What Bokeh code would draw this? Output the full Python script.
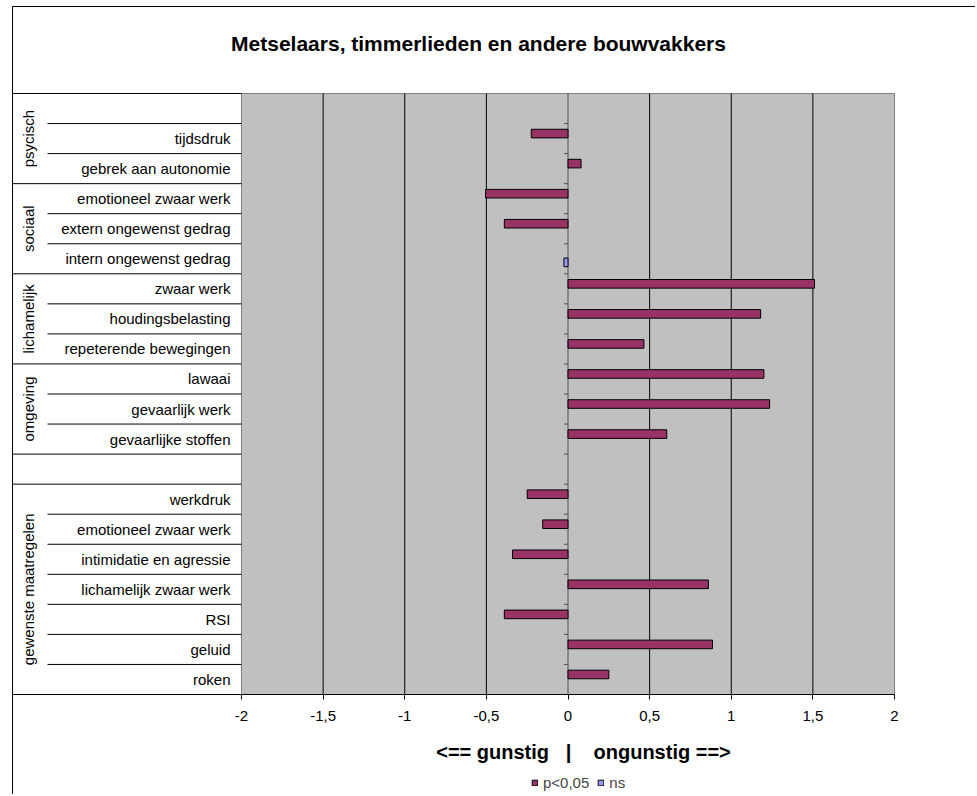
import math
from bokeh.plotting import figure
from bokeh.models import (ColumnDataSource, LinearAxis, FixedTicker, CustomJSTickFormatter,
                          Range1d, Legend, LegendItem)
from bokeh.core.properties import value
from bokeh.embed import file_html
from bokeh.resources import INLINE

# ---------------- data ----------------
title_text = "Metselaars, timmerlieden en andere bouwvakkers"
axis_title = "<== gunstig\u00a0\u00a0\u00a0|\u00a0\u00a0\u00a0\u00a0ongunstig ==>"

labels = ["", "tijdsdruk", "gebrek aan autonomie",
          "emotioneel zwaar werk", "extern ongewenst gedrag", "intern ongewenst gedrag",
          "zwaar werk", "houdingsbelasting", "repeterende bewegingen",
          "lawaai", "gevaarlijk werk", "gevaarlijke stoffen",
          "",
          "werkdruk", "emotioneel zwaar werk", "intimidatie en agressie",
          "lichamelijk zwaar werk", "RSI", "geluid", "roken"]

sig_values = [None, -0.225, 0.08,
              -0.505, -0.39, None,
              1.51, 1.18, 0.465,
              1.20, 1.235, 0.605,
              None,
              -0.25, -0.155, -0.34, 0.86, -0.39, 0.885, 0.25]

ns_values = [None, None, None,
             None, None, -0.025,
             None, None, None,
             None, None, None,
             None,
             None, None, None, None, None, None, None]

groups = ["psycisch", "sociaal", "lichamelijk", "omgeving", "", "gewenste maatregelen"]
group_sizes = [3, 3, 3, 3, 1, 7]

x_ticks = [-2, -1.5, -1, -0.5, 0, 0.5, 1, 1.5, 2]
legend_labels = ["p<0,05", "ns"]

# ---------------- layout / style ----------------
FONT = value("Liberation Sans")
SIG_COLOR = "#993366"
NS_COLOR = "#9999FF"
PLOT_BG = "#C0C0C0"

W, H = 975, 794
PLOT_L, PLOT_R, PLOT_T, PLOT_B = 241, 894, 93, 694
FRAME_L, FRAME_T = 12, 6
GROUP_COL_R = 47
LABEL_R = 230
GROUP_X = 28

XMIN, XMAX = x_ticks[0], x_ticks[-1]
n = len(labels)
ppu_x = (PLOT_R - PLOT_L) / (XMAX - XMIN)
ppu_y = (PLOT_B - PLOT_T) / n


def dx(px):
    return XMIN + (px - PLOT_L) / ppu_x


def dy(py):
    return (PLOT_B - py) / ppu_y - 0.5


p = figure(width=W, height=H,
           x_range=Range1d(dx(0), dx(W)),
           y_range=Range1d(dy(H), dy(0)),
           x_axis_type=None, y_axis_type=None,
           toolbar_location=None, output_backend="svg",
           min_border=0, outline_line_color=None)
p.background_fill_color = "white"
p.border_fill_color = "white"

ys = [n - 1 - i for i in range(n)]
top_y, bot_y = n - 0.5, -0.5

# plot area
p.quad(left=XMIN, right=XMAX, bottom=bot_y, top=top_y,
       fill_color=PLOT_BG, line_color="#808080", line_width=1)

# vertical gridlines
grid_x = [t for t in x_ticks[1:-1] if t != 0]
p.segment(x0=grid_x, y0=[bot_y] * len(grid_x), x1=grid_x, y1=[top_y] * len(grid_x),
          line_color="black", line_width=1)

# category axis at zero with tick marks at row boundaries
p.segment(x0=[0], y0=[bot_y], x1=[0], y1=[top_y], line_color="#505050", line_width=1)
bnds = [k - 0.5 for k in range(1, n)]
p.segment(x0=[-4 / ppu_x] * len(bnds), y0=bnds, x1=[0] * len(bnds), y1=bnds,
          line_color="#505050", line_width=1)

# bars
bar_h = 8.6 / ppu_y
off_sig = 5.0 / ppu_y
off_ns = -3.6 / ppu_y
sig_src = ColumnDataSource(dict(
    y=[ys[i] + off_sig for i, v in enumerate(sig_values) if v is not None],
    v=[v for v in sig_values if v is not None]))
ns_src = ColumnDataSource(dict(
    y=[ys[i] + off_ns for i, v in enumerate(ns_values) if v is not None],
    v=[v for v in ns_values if v is not None]))
r_sig = p.hbar(y="y", left=0, right="v", height=bar_h, source=sig_src,
               fill_color=SIG_COLOR, line_color="black", line_width=1)
r_ns = p.hbar(y="y", left=0, right="v", height=bar_h, source=ns_src,
              fill_color=NS_COLOR, line_color="black", line_width=1)

# label panel lines
bounds_rows = [0]
for s in group_sizes:
    bounds_rows.append(bounds_rows[-1] + s)
gy = [top_y - b for b in bounds_rows]
p.segment(x0=[dx(FRAME_L)] * len(gy), y0=gy, x1=[XMIN] * len(gy), y1=gy,
          line_color="black", line_width=1)
iy = []
for start, size in zip(bounds_rows[:-1], group_sizes):
    for k in range(start + 1, start + size):
        iy.append(top_y - k)
p.segment(x0=[dx(GROUP_COL_R)] * len(iy), y0=iy, x1=[XMIN] * len(iy), y1=iy,
          line_color="black", line_width=1)

# outer chart border (left + top)
p.segment(x0=[dx(FRAME_L), dx(FRAME_L)], y0=[dy(FRAME_T), dy(FRAME_T)],
          x1=[dx(FRAME_L), dx(W)], y1=[dy(H), dy(FRAME_T)],
          line_color="black", line_width=1)

# item labels
p.text(x=[dx(LABEL_R)] * n, y=ys, text=labels, text_align="right", text_baseline="middle",
       text_font=FONT, text_font_size="15px", text_color="black")

# group labels (rotated)
gcy = []
for start, size in zip(bounds_rows[:-1], group_sizes):
    gcy.append(top_y - start - size / 2)
p.text(x=[dx(GROUP_X)] * len(groups), y=gcy, text=groups, angle=math.pi / 2,
       text_align="center", text_baseline="middle",
       text_font=FONT, text_font_size="15px", text_color="black")

# x axis
xaxis = LinearAxis(fixed_location=bot_y, ticker=FixedTicker(ticks=x_ticks),
                   formatter=CustomJSTickFormatter(code="return tick.toString().replace('.', ',')"),
                   bounds=(XMIN, XMAX))
xaxis.axis_line_color = "black"
xaxis.major_tick_line_color = "black"
xaxis.major_tick_out = 5
xaxis.major_tick_in = 0
xaxis.minor_tick_line_color = None
xaxis.major_label_text_font = "Liberation Sans"
xaxis.major_label_text_font_size = "15px"
xaxis.major_label_text_color = "black"
xaxis.major_label_standoff = 11
p.add_layout(xaxis, "below")

# title and axis title
p.text(x=[dx(478)], y=[dy(43)], text=[title_text], text_align="center",
       text_baseline="middle", text_font=FONT, text_font_size="21px",
       text_font_style="bold", text_color="black")
p.text(x=[dx(583)], y=[dy(751)], text=[axis_title], text_align="center",
       text_baseline="middle", text_font=FONT, text_font_size="20px",
       text_font_style="bold", text_color="black")

# legend
legend = Legend(items=[LegendItem(label=legend_labels[0], renderers=[r_sig]),
                       LegendItem(label=legend_labels[1], renderers=[r_ns])],
                orientation="horizontal", location=(531, H - 791),
                glyph_width=7, glyph_height=7, label_height=14, label_standoff=5,
                spacing=8, padding=0, margin=0, border_line_color=None,
                background_fill_alpha=0,
                label_text_font="Liberation Sans", label_text_font_size="15px")
p.add_layout(legend)

open("out.html", "w").write(file_html(p, INLINE))
